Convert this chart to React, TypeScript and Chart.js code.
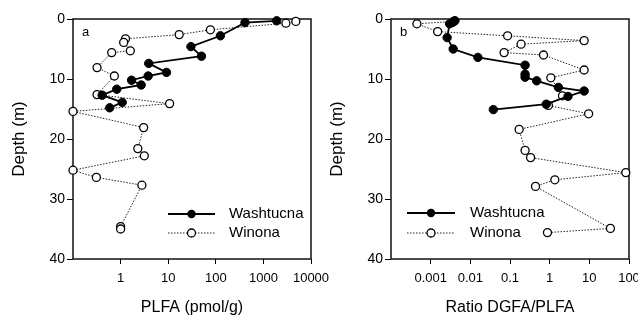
import React, { useEffect, useRef } from 'react';
import { Chart, registerables } from 'chart.js';

Chart.register(...registerables);

// ---- Data ----
const seriesNames = ['Washtucna', 'Winona'];

// Panel a: PLFA (pmol/g) vs depth (m)
const washDepthA = [0.3, 0.6, 2.8, 4.6, 6.2, 7.4, 8.9, 9.5, 10.2, 11.0, 11.7, 12.7, 13.9, 14.8];
const washPlfa = [1900, 410, 125, 30, 50, 3.9, 9.2, 3.8, 1.7, 2.7, 0.83, 0.41, 1.08, 0.59];
const winDepthA = [0.4, 0.7, 1.8, 2.6, 3.3, 3.9, 5.3, 5.6, 8.1, 9.5, 12.6, 14.1, 15.4, 18.1, 21.6, 22.8, 25.2, 26.4, 27.7, 34.6, 35.0];
const winPlfa = [4800, 2970, 77, 17, 1.27, 1.16, 1.6, 0.65, 0.32, 0.74, 0.32, 10.7, 0.1, 3.05, 2.3, 3.15, 0.1, 0.31, 2.8, 1.0, 1.0];

// Panel b: Ratio DGFA/PLFA vs depth (m)
const washDepthB = [0.28, 0.6, 0.8, 3.1, 5.0, 6.4, 7.7, 9.2, 9.7, 10.3, 11.4, 12.0, 12.9, 14.2, 15.1];
const washRatio = [0.0041, 0.0035, 0.003, 0.0026, 0.0037, 0.0155, 0.24, 0.24, 0.24, 0.47, 1.66, 7.4, 2.9, 0.82, 0.038];
const winDepthB = [0.4, 0.8, 2.1, 2.8, 3.6, 4.2, 5.6, 6.0, 8.5, 9.8, 12.8, 14.4, 15.8, 18.4, 21.9, 23.1, 25.6, 26.8, 27.9, 34.9, 35.6];
const winRatio = [0.0038, 0.00045, 0.0015, 0.087, 7.4, 0.19, 0.071, 0.7, 7.4, 1.07, 2.1, 0.93, 9.6, 0.17, 0.24, 0.33, 83, 1.35, 0.44, 34, 0.88];

// Tick labels
const depthTicks = [0, 10, 20, 30, 40];
const plfaTicks = [1, 10, 100, 1000, 10000];
const ratioTicks = [0.001, 0.01, 0.1, 1, 10, 100];

const FONT = "'Liberation Sans', Arial, Helvetica, sans-serif";

const pts = (xs: number[], ys: number[]) => xs.map((x, i) => ({ x, y: ys[i] }));

const framePlugin = {
  id: 'frame',
  beforeDatasetsDraw(chart: any) {
    const { ctx, chartArea: a } = chart;
    ctx.save();
    ctx.strokeStyle = '#111';
    ctx.lineWidth = 1.5;
    ctx.strokeRect(a.left, a.top, a.right - a.left, a.bottom - a.top);
    ctx.restore();
  },
};

const inLegendPlugin = {
  id: 'inlegend',
  afterDraw(chart: any, _args: any, opts: any) {
    const { ctx, chartArea: a } = chart;
    const x1 = a.left + opts.x1;
    const x2 = a.left + opts.x2;
    const tx = a.left + opts.tx;
    const ys = [a.top + opts.y1, a.top + opts.y2];
    const mx = (x1 + x2) / 2;
    ctx.save();
    // panel letter
    ctx.fillStyle = '#000';
    ctx.font = `13px ${FONT}`;
    ctx.textBaseline = 'alphabetic';
    ctx.textAlign = 'left';
    ctx.fillText(opts.letter, a.left + 9, a.top + 17);
    // Washtucna
    ctx.strokeStyle = '#000';
    ctx.lineWidth = 1.8;
    ctx.setLineDash([]);
    ctx.beginPath();
    ctx.moveTo(x1, ys[0]);
    ctx.lineTo(x2, ys[0]);
    ctx.stroke();
    ctx.beginPath();
    ctx.arc(mx, ys[0], 4.2, 0, Math.PI * 2);
    ctx.fillStyle = '#000';
    ctx.fill();
    // Winona
    ctx.lineWidth = 1;
    ctx.strokeStyle = '#222';
    ctx.setLineDash([1.5, 1.5]);
    ctx.beginPath();
    ctx.moveTo(x1, ys[1]);
    ctx.lineTo(x2, ys[1]);
    ctx.stroke();
    ctx.setLineDash([]);
    ctx.beginPath();
    ctx.arc(mx, ys[1], 4, 0, Math.PI * 2);
    ctx.fillStyle = '#fff';
    ctx.fill();
    ctx.lineWidth = 1.3;
    ctx.strokeStyle = '#000';
    ctx.stroke();
    // labels
    ctx.fillStyle = '#000';
    ctx.font = `15px ${FONT}`;
    ctx.textBaseline = 'middle';
    ctx.fillText(seriesNames[0], tx, ys[0]);
    ctx.fillText(seriesNames[1], tx, ys[1]);
    ctx.restore();
  },
};

function makeConfig(
  wash: { x: number; y: number }[],
  win: { x: number; y: number }[],
  xMin: number,
  xMax: number,
  xTicks: number[],
  xTitle: string,
  legend: any,
  rightPad: number
): any {
  return {
    type: 'scatter',
    data: {
      datasets: [
        {
          label: seriesNames[0],
          data: wash,
          showLine: true,
          borderColor: '#000',
          borderWidth: 1.8,
          backgroundColor: '#000',
          pointBackgroundColor: '#000',
          pointBorderColor: '#000',
          pointBorderWidth: 1,
          pointRadius: 4.2,
          clip: false,
        },
        {
          label: seriesNames[1],
          data: win,
          showLine: true,
          borderColor: '#222',
          borderWidth: 1,
          borderDash: [1.5, 1.5],
          backgroundColor: '#fff',
          pointBackgroundColor: '#fff',
          pointBorderColor: '#000',
          pointBorderWidth: 1.3,
          pointRadius: 4,
          clip: false,
        },
      ],
    },
    options: {
      responsive: false,
      animation: false,
      events: [],
      layout: { padding: { top: 19, left: 0, right: rightPad, bottom: 0 } },
      plugins: {
        legend: { display: false },
        tooltip: { enabled: false },
        inlegend: legend,
      },
      scales: {
        x: {
          type: 'logarithmic',
          min: xMin,
          max: xMax,
          bounds: 'data',
          afterBuildTicks: (scale: any) => {
            scale.ticks = xTicks.map((v) => ({ value: v }));
          },
          afterFit: (scale: any) => {
            scale.height = 61;
          },
          ticks: {
            autoSkip: false,
            maxRotation: 0,
            padding: 7,
            color: '#000',
            font: { family: FONT, size: 13 },
            callback: (v: any) => String(v),
          },
          grid: { display: true, drawOnChartArea: false, drawTicks: true, tickLength: 5, color: '#000', lineWidth: 1 },
          border: { display: false },
          title: {
            display: true,
            text: xTitle,
            color: '#000',
            font: { family: FONT, size: 16 },
            padding: { top: 0, bottom: 3 },
          },
        },
        y: {
          type: 'linear',
          reverse: true,
          min: 0,
          max: 40,
          afterBuildTicks: (scale: any) => {
            scale.ticks = depthTicks.map((v) => ({ value: v }));
          },
          afterFit: (scale: any) => {
            scale.width = 73;
          },
          ticks: {
            padding: 2,
            color: '#000',
            font: { family: FONT, size: 14 },
            callback: (v: any) => String(v),
          },
          grid: { display: true, drawOnChartArea: false, drawTicks: true, tickLength: 6, color: '#000', lineWidth: 1 },
          border: { display: false },
          title: {
            display: true,
            text: 'Depth (m)',
            color: '#000',
            font: { family: FONT, size: 17 },
            padding: { top: 9, bottom: 0 },
          },
        },
      },
    },
    plugins: [framePlugin, inLegendPlugin],
  };
}

export default function App() {
  const refA = useRef<HTMLCanvasElement>(null);
  const refB = useRef<HTMLCanvasElement>(null);

  useEffect(() => {
    const chartA = new Chart(
      refA.current as HTMLCanvasElement,
      makeConfig(
        pts(washPlfa, washDepthA),
        pts(winPlfa, winDepthA),
        0.1,
        10000,
        plfaTicks,
        'PLFA (pmol/g)',
        { letter: 'a', x1: 95, x2: 142, tx: 156, y1: 195, y2: 214 },
        34
      )
    );
    const chartB = new Chart(
      refB.current as HTMLCanvasElement,
      makeConfig(
        pts(washRatio, washDepthB),
        pts(winRatio, winDepthB),
        0.0001,
        100,
        ratioTicks,
        'Ratio DGFA/PLFA',
        { letter: 'b', x1: 16, x2: 64, tx: 79, y1: 194, y2: 214 },
        29
      )
    );
    return () => {
      chartA.destroy();
      chartB.destroy();
    };
  }, []);

  return (
    <div
      style={{
        position: 'fixed',
        left: 0,
        top: 0,
        width: 638,
        height: 320,
        overflow: 'hidden',
        background: '#fff',
      }}
    >
      <canvas ref={refA} width={345} height={320} style={{ position: 'absolute', left: 0, top: 0 }} />
      <canvas ref={refB} width={340} height={320} style={{ position: 'absolute', left: 318, top: 0 }} />
    </div>
  );
}
